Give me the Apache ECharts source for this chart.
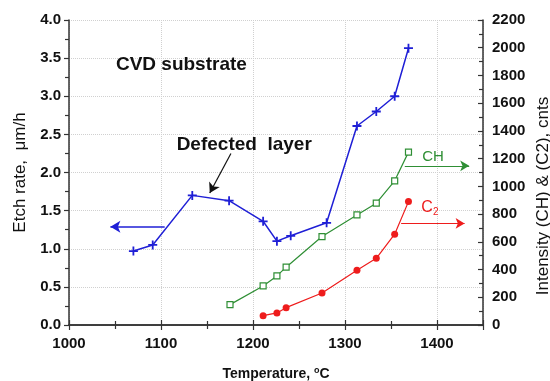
<!DOCTYPE html>
<html><head><meta charset="utf-8">
<script src="https://cdn.jsdelivr.net/npm/echarts@6/dist/echarts.min.js"></script>
<style>html,body{margin:0;padding:0;background:#fff}#c{width:550px;height:381px}</style>
</head><body><div id="c"></div>
<script>
// Etch rate (left axis)
var etchTemps = [1070, 1091, 1134, 1174, 1211, 1226, 1241, 1280, 1313, 1334, 1354, 1369];
var etchRates = [0.97, 1.05, 1.70, 1.63, 1.36, 1.10, 1.17, 1.34, 2.61, 2.80, 3.00, 3.63];
// CH intensity (right axis)
var chTemps = [1175, 1211, 1226, 1236, 1275, 1313, 1334, 1354, 1369];
var chValues = [147, 282, 354, 417, 638, 794, 879, 1040, 1247];
// C2 intensity (right axis)
var c2Temps = [1211, 1226, 1236, 1275, 1313, 1334, 1354, 1369];
var c2Values = [67, 87, 125, 231, 395, 481, 655, 890];
// Axis tick labels
var xTicks = [1000, 1100, 1200, 1300, 1400];
var leftTicks = ['0.0','0.5','1.0','1.5','2.0','2.5','3.0','3.5','4.0'];
var rightTicks = [0,200,400,600,800,1000,1200,1400,1600,1800,2000,2200];

var FONT = "'Liberation Sans', Arial, sans-serif";
var BLUE = '#1f1fd6', GREEN = '#2f8f35', RED = '#ee1c1c', AX = '#333';

function pairs(xs, ys){ return xs.map(function(x,i){ return [x, ys[i]]; }); }

var chart = echarts.init(document.getElementById('c'), null, {renderer:'canvas'});
var plus = 'path://M4,0H6V4H10V6H6V10H4V6H0V4H4Z';

var option = {
  animation: false,
  backgroundColor: '#fff',
  grid: {left: 69, right: 67, top: 20, bottom: 56, containLabel: false, outerBoundsMode: 'none'},
  xAxis: [{
    type: 'value', min: 1000, max: 1450, interval: 100, position: 'bottom',
    name: 'Temperature, {sup|o}C', nameLocation: 'middle', nameGap: 41,
    nameTextStyle: {fontFamily: FONT, fontWeight: 'bold', fontSize: 14, color: '#111',
      rich: {sup: {fontSize: 9, fontWeight: 'bold', verticalAlign: 'top', padding: [0,0,8,0], fontFamily: FONT, color:'#111'}}},
    axisLine: {show: true, lineStyle: {color: AX, width: 1.5}},
    axisTick: {show: true, inside: true, length: 5, lineStyle: {color: AX, width: 1.2}},
    minorTick: {show: true, splitNumber: 2, length: 4, lineStyle: {color: AX, width: 1.2}},
    axisLabel: {margin: 11, fontFamily: FONT, fontWeight: 'bold', fontSize: 15, color: '#111',
      formatter: function(v){ return xTicks.indexOf(v) >= 0 ? String(v) : ''; }},
    splitLine: {show: true, lineStyle: {color: '#d0d0d0', type: 'dotted', width: 1}}
  }, {
    type: 'value', min: 1000, max: 1450, interval: 100, position: 'top',
    axisLine: {show: true, lineStyle: {color: AX, width: 1.5}},
    axisTick: {show: true, inside: true, length: 5, lineStyle: {color: AX, width: 1.2}},
    minorTick: {show: true, splitNumber: 2, length: 4, lineStyle: {color: AX, width: 1.2}},
    axisLabel: {show: false}, splitLine: {show: false}
  }],
  yAxis: [{
    type: 'value', min: 0, max: 4, interval: 0.5, position: 'left',
    name: 'Etch rate,  \u03bcm/h', nameLocation: 'middle', nameGap: 40,
    nameTextStyle: {fontFamily: FONT, fontSize: 17, color: '#111'},
    axisLine: {show: true, lineStyle: {color: AX, width: 1.5}},
    axisTick: {show: true, inside: false, length: 5, lineStyle: {color: AX, width: 1.2}},
    minorTick: {show: true, splitNumber: 2, length: 4, lineStyle: {color: AX, width: 1.2}},
    axisLabel: {margin: 8, fontFamily: FONT, fontWeight: 'bold', fontSize: 15, color: '#111',
      formatter: function(v){ return leftTicks[Math.round(v/0.5)] || ''; }},
    splitLine: {show: true, lineStyle: {color: '#d0d0d0', type: 'dotted', width: 1}}
  }, {
    type: 'value', min: 0, max: 2200, interval: 200, position: 'right',
    axisLine: {show: true, lineStyle: {color: AX, width: 1.5}},
    axisTick: {show: true, inside: true, length: 5, lineStyle: {color: AX, width: 1.2}},
    minorTick: {show: true, splitNumber: 2, length: 4, lineStyle: {color: AX, width: 1.2}},
    axisLabel: {margin: 9, fontFamily: FONT, fontWeight: 'bold', fontSize: 15, color: '#111',
      formatter: function(v){ return rightTicks.indexOf(v) >= 0 ? String(v) : ''; }},
    splitLine: {show: false}
  }],
  series: [{
    name: 'Etch rate', type: 'line', xAxisIndex: 0, yAxisIndex: 0,
    data: pairs(etchTemps, etchRates),
    symbol: plus, symbolSize: 9, showAllSymbol: true,
    lineStyle: {color: BLUE, width: 1.5}, itemStyle: {color: BLUE},
    markLine: {
      silent: true, animation: false, label: {show: false},
      symbol: ['none', 'arrow'], symbolSize: [9, 10],
      data: [
        [{coord: [1104, 1.29], lineStyle: {color: BLUE, width: 1.5, type: 'solid'}, itemStyle:{color:BLUE}},
         {coord: [1045, 1.29]}],
        [{coord: [1176, 2.25], lineStyle: {color: '#111', width: 1.2, type: 'solid'}, itemStyle:{color:'#111'}},
         {coord: [1153, 1.73]}]
      ]
    }
  }, {
    name: 'CH', type: 'line', xAxisIndex: 0, yAxisIndex: 1,
    data: pairs(chTemps, chValues),
    symbol: 'rect', symbolSize: 6, showAllSymbol: true,
    lineStyle: {color: GREEN, width: 1.2},
    itemStyle: {color: '#fff', borderColor: GREEN, borderWidth: 1.2},
    markLine: {
      silent: true, animation: false, label: {show: false},
      symbol: ['none', 'arrow'], symbolSize: [8, 9],
      data: [[{coord: [1365, 1148], lineStyle: {color: GREEN, width: 1.2, type: 'solid'}, itemStyle:{color:GREEN}},
              {coord: [1435, 1148]}]]
    }
  }, {
    name: 'C2', type: 'line', xAxisIndex: 0, yAxisIndex: 1,
    data: pairs(c2Temps, c2Values),
    symbol: 'circle', symbolSize: 7, showAllSymbol: true,
    lineStyle: {color: RED, width: 1.2}, itemStyle: {color: RED},
    markLine: {
      silent: true, animation: false, label: {show: false},
      symbol: ['none', 'arrow'], symbolSize: [8, 9],
      data: [[{coord: [1361, 733], lineStyle: {color: RED, width: 1.2, type: 'solid'}, itemStyle:{color:RED}},
              {coord: [1430, 733]}]]
    }
  }]
};
chart.setOption(option);

function px(x, y, yi){ return chart.convertToPixel({xAxisIndex: 0, yAxisIndex: yi}, [x, y]); }
var pCVD = px(1051, 3.41, 0);
var pDef = px(1117, 2.37, 0);
var pCH = px(1384, 1215, 1);
var pC2 = px(1383, 845, 1);
var rightAxisX = px(1450, 0, 1)[0];
function txt(p, text, font, fill, rich){
  var s = {text: text, font: font, fill: fill, align: 'left', verticalAlign: 'middle'};
  if (rich) s.rich = rich;
  return {type: 'text', x: p[0], y: p[1], silent: true, style: s};
}
chart.setOption({
  graphic: [
    txt(pCVD, 'CVD substrate', 'bold 19px ' + FONT, '#111'),
    txt(pDef, 'Defected  layer', 'bold 19px ' + FONT, '#111'),
    txt(pCH, 'CH', '15px ' + FONT, GREEN),
    txt(pC2, '{c|C}{s|2}', '15px ' + FONT, RED, {
      c: {fontSize: 16, fontFamily: FONT, fill: RED, color: RED},
      s: {fontSize: 10, fontFamily: FONT, fill: RED, color: RED, verticalAlign: 'bottom', padding: [8,0,0,0]}
    }),
    {type: 'text', x: rightAxisX + 60, y: 196, rotation: Math.PI / 2, silent: true,
      style: {text: 'Intensity (CH) & (C2), cnts', font: '17px ' + FONT, fill: '#111',
        align: 'center', verticalAlign: 'middle'}}
  ]
});
</script>
</body></html>
